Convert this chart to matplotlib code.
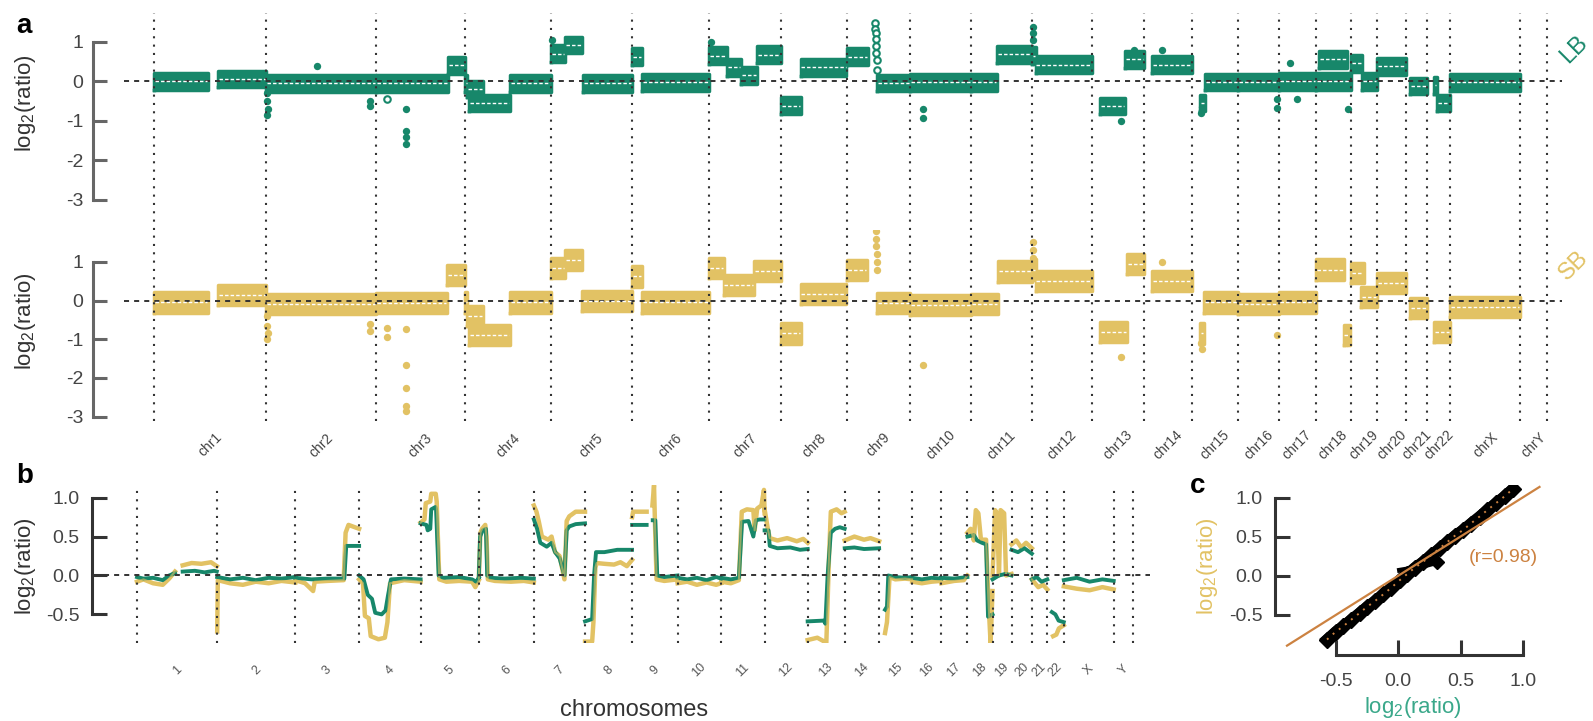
import matplotlib.pyplot as plt
import matplotlib.transforms as mtransforms
import numpy as np

plt.rcParams['font.family'] = ['Liberation Sans', 'DejaVu Sans']
plt.rcParams['mathtext.fontset'] = 'custom'
plt.rcParams['mathtext.rm'] = 'Liberation Sans'
plt.rcParams['mathtext.it'] = 'Liberation Sans:italic'
plt.rcParams['mathtext.bf'] = 'Liberation Sans:bold'

GREEN = '#17876a'
YELLOW = '#e2c264'
ORANGE = '#cc8241'
GREY = '#444444'
nan = np.nan

# chromosomes and their lengths (Mb)
chrom_names = ['1', '2', '3', '4', '5', '6', '7', '8', '9', '10', '11', '12',
               '13', '14', '15', '16', '17', '18', '19', '20', '21', '22', 'X', 'Y']
chrom_len = [249.25, 243.20, 198.02, 191.15, 180.92, 171.12, 159.14, 146.36,
             141.21, 135.53, 135.01, 133.85, 115.17, 107.35, 102.53, 90.35,
             81.20, 78.08, 59.13, 63.03, 48.13, 51.30, 155.27, 59.37]

# panel a : segments (chromosome, start Mb, end Mb, log2 ratio)
lb_segments = [
    ('1', 0, 120, 0.0), ('1', 143, 249, 0.06),
    ('2', 0, 243, -0.05),
    ('3', 0, 160, -0.05), ('3', 160, 198, 0.4),
    ('4', 0, 6, -0.05), ('4', 6, 40, -0.2), ('4', 10, 100, -0.55), ('4', 100, 191, -0.05),
    ('5', 0, 32, 0.7), ('5', 32, 70, 0.92), ('5', 72, 181, -0.05),
    ('6', 0, 22, 0.62), ('6', 22, 171, -0.03),
    ('7', 0, 39, 0.65), ('7', 39, 70, 0.35), ('7', 70, 106, 0.15), ('7', 106, 159, 0.67),
    ('8', 0, 44, -0.62), ('8', 44, 146, 0.35),
    ('9', 0, 47, 0.62), ('9', 68, 141, -0.04),
    ('10', 0, 135, -0.03),
    ('11', 0, 58, -0.03), ('11', 58, 135, 0.68),
    ('12', 0, 8, 0.65), ('12', 8, 134, 0.42),
    ('13', 18, 73, -0.63), ('13', 73, 115, 0.55),
    ('14', 18, 107, 0.42),
    ('15', 18, 28, -0.55), ('15', 28, 102, -0.02),
    ('16', 0, 90, -0.02),
    ('17', 0, 81, 0.0),
    ('18', 0, 78, 0.0), ('18', 8, 70, 0.55),
    ('19', 0, 25, 0.45), ('19', 25, 59, 0.0),
    ('20', 0, 63, 0.38),
    ('21', 10, 48, -0.12),
    ('22', 15, 22, -0.1), ('22', 22, 51, -0.55),
    ('X', 0, 155, -0.03),
]
sb_segments = [
    ('1', 0, 120, -0.05), ('1', 143, 249, 0.15),
    ('2', 0, 243, -0.1),
    ('3', 0, 158, -0.07), ('3', 158, 198, 0.66),
    ('4', 0, 6, -0.05), ('4', 6, 40, -0.4), ('4', 10, 100, -0.88), ('4', 100, 191, -0.05),
    ('5', 0, 32, 0.83), ('5', 32, 70, 1.05), ('5', 70, 181, -0.02),
    ('6', 0, 22, 0.62), ('6', 22, 171, -0.05),
    ('7', 0, 32, 0.83), ('7', 32, 100, 0.4), ('7', 100, 159, 0.77),
    ('8', 0, 44, -0.85), ('8', 44, 146, 0.17),
    ('9', 0, 45, 0.78), ('9', 68, 141, -0.07),
    ('10', 0, 135, -0.12),
    ('11', 0, 60, -0.08), ('11', 60, 135, 0.75),
    ('12', 0, 8, 0.8), ('12', 8, 134, 0.5),
    ('13', 18, 77, -0.82), ('13', 77, 115, 0.95),
    ('14', 18, 107, 0.5),
    ('15', 18, 26, -0.85), ('15', 26, 102, -0.05),
    ('16', 0, 90, -0.08),
    ('17', 0, 81, -0.05),
    ('18', 0, 62, 0.8), ('18', 62, 76, -0.9),
    ('19', 0, 30, 0.7), ('19', 22, 59, 0.1),
    ('20', 0, 63, 0.45),
    ('21', 10, 48, -0.2),
    ('22', 15, 51, -0.82),
    ('X', 0, 155, -0.16),
]

# panel a : single probes away from the segments (chromosome, Mb, log2 ratio)
lb_points = [
    ('2', 2, -0.3), ('2', 2, -0.5), ('2', 3, -0.7), ('2', 2, -0.85),
    ('2', 112, 0.38), ('2', 231, -0.5), ('2', 231, -0.63),
    ('3', 68, -0.71), ('3', 68, -1.25), ('3', 68, -1.42), ('3', 68, -1.58),
    ('5', 3, 1.05), ('7', 4, 1.0),
    ('10', 28, -0.71), ('10', 28, -0.92),
    ('12', 2, 1.37), ('12', 2, 1.21), ('12', 3, 1.04),
    ('13', 64, -1.0), ('13', 92, 0.78), ('14', 39, 0.78),
    ('15', 20, -0.8), ('15', 21, -0.65),
    ('16', 86, -0.45), ('16', 86, -0.67),
    ('17', 25, 0.45), ('17', 40, -0.45), ('18', 72, -0.7),
]
lb_open_points = [
    ('3', 26, -0.46),
    ('9', 64, 1.46), ('9', 64, 1.33), ('9', 65, 1.21), ('9', 65, 1.08),
    ('9', 66, 0.88), ('9', 66, 0.71), ('9', 67, 0.54), ('9', 67, 0.29),
]
sb_points = [
    ('2', 2, -0.4), ('2', 2, -0.65), ('2', 3, -0.85), ('2', 2, -1.0),
    ('2', 231, -0.6), ('2', 231, -0.78),
    ('3', 26, -0.7), ('3', 26, -0.95),
    ('3', 68, -0.74), ('3', 68, -1.66), ('3', 68, -2.25), ('3', 68, -2.71), ('3', 68, -2.84),
    ('9', 66, 1.8), ('9', 66, 1.6), ('9', 66, 1.4), ('9', 67, 1.2), ('9', 67, 1.0), ('9', 67, 0.8),
    ('10', 28, -1.66),
    ('12', 2, 1.5), ('12', 2, 1.3), ('12', 3, 1.1),
    ('13', 64, -1.45), ('14', 39, 1.0),
    ('15', 20, -1.1), ('15', 21, -1.25),
    ('16', 86, -0.9), ('18', 70, -1.1),
]

# panel b : smoothed profiles (chromosome, Mb, log2 ratio)
b_lb = [
    ('1', 0, -0.02), ('1', 20, -0.04), ('1', 50, -0.03), ('1', 80, -0.06), ('1', 100, 0.0), ('1', 118, 0.03),
    ('1', 130, nan), ('1', 142, 0.05), ('1', 180, 0.06), ('1', 210, 0.04), ('1', 240, 0.06), ('1', 248, 0.05),
    ('2', 0, -0.02), ('2', 40, -0.05), ('2', 80, -0.03), ('2', 120, -0.06), ('2', 160, -0.03), ('2', 200, -0.04), ('2', 243, -0.02),
    ('3', 0, -0.03), ('3', 50, -0.05), ('3', 100, -0.04), ('3', 152, -0.04), ('3', 158, 0.38), ('3', 198, 0.38),
    ('4', 0, 0.0), ('4', 14, -0.05), ('4', 27, -0.25), ('4', 40, -0.3), ('4', 50, -0.48), ('4', 70, -0.5),
    ('4', 82, -0.45), ('4', 90, -0.25), ('4', 99, -0.05), ('4', 140, -0.04), ('4', 191, -0.05),
    ('5', 0, 0.67), ('5', 18, 0.65), ('5', 22, 0.58), ('5', 30, 0.6), ('5', 33, 0.85), ('5', 46, 0.88),
    ('5', 48, 0.85), ('5', 56, 0.0), ('5', 70, -0.03), ('5', 120, -0.02), ('5', 160, -0.05), ('5', 173, -0.08), ('5', 181, -0.03),
    ('6', 0, -0.02), ('6', 4, 0.5), ('6', 12, 0.58), ('6', 22, 0.6), ('6', 26, 0.0), ('6', 35, -0.03),
    ('6', 80, -0.04), ('6', 130, -0.03), ('6', 171, -0.04),
    ('7', 0, 0.72), ('7', 10, 0.6), ('7', 20, 0.42), ('7', 40, 0.37), ('7', 55, 0.42), ('7', 66, 0.3),
    ('7', 80, 0.22), ('7', 95, 0.0), ('7', 102, 0.58), ('7', 110, 0.63), ('7', 130, 0.66), ('7', 159, 0.67),
    ('8', 0, -0.59), ('8', 22, -0.56), ('8', 28, 0.0), ('8', 34, 0.3), ('8', 60, 0.3), ('8', 100, 0.33), ('8', 146, 0.33),
    ('9', 0, 0.65), ('9', 45, 0.65), ('9', 55, nan), ('9', 64, 0.71), ('9', 72, 0.71), ('9', 78, 0.0),
    ('9', 100, -0.02), ('9', 141, 0.0),
    ('10', 0, -0.03), ('10', 30, -0.05), ('10', 60, -0.03), ('10', 90, -0.06), ('10', 120, -0.02), ('10', 135, -0.04),
    ('11', 0, -0.03), ('11', 30, -0.05), ('11', 55, -0.03), ('11', 65, 0.69), ('11', 85, 0.7), ('11', 100, 0.5),
    ('11', 108, 0.71), ('11', 120, 0.72), ('11', 135, 0.72),
    ('12', 0, 0.58), ('12', 12, 0.58), ('12', 16, 0.38), ('12', 40, 0.35), ('12', 80, 0.36), ('12', 110, 0.33), ('12', 134, 0.34),
    ('13', 0, -0.59), ('13', 50, -0.58), ('13', 55, -0.62), ('13', 62, 0.0), ('13', 72, 0.55), ('13', 85, 0.6),
    ('13', 100, 0.62), ('13', 115, 0.6),
    ('14', 0, 0.35), ('14', 30, 0.36), ('14', 60, 0.34), ('14', 107, 0.35),
    ('15', 18, -0.44), ('15', 24, -0.4), ('15', 28, 0.0), ('15', 50, -0.02), ('15', 80, -0.03), ('15', 102, -0.02),
    ('16', 0, -0.03), ('16', 30, -0.05), ('16', 60, -0.03), ('16', 90, -0.04),
    ('17', 0, -0.03), ('17', 40, -0.04), ('17', 81, -0.02),
    ('18', 0, 0.5), ('18', 20, 0.52), ('18', 30, 0.45), ('18', 45, 0.42), ('18', 58, 0.4), ('18', 64, -0.53), ('18', 78, -0.5),
    ('19', 0, -0.05), ('19', 20, 0.0), ('19', 40, 0.02), ('19', 59, 0.0),
    ('20', 0, 0.33), ('20', 20, 0.3), ('20', 40, 0.35), ('20', 63, 0.28),
    ('21', 0, -0.05), ('21', 15, -0.02), ('21', 30, -0.08), ('21', 48, -0.05),
    ('22', 14, -0.47), ('22', 25, -0.5), ('22', 35, -0.58), ('22', 51, -0.6),
    ('X', 0, -0.06), ('X', 40, -0.03), ('X', 80, -0.08), ('X', 120, -0.05), ('X', 155, -0.07),
]
b_sb = [
    ('1', 0, -0.08), ('1', 20, -0.05), ('1', 50, -0.1), ('1', 80, -0.12), ('1', 100, -0.04), ('1', 118, 0.05),
    ('1', 130, nan), ('1', 142, 0.13), ('1', 170, 0.16), ('1', 200, 0.15), ('1', 230, 0.17), ('1', 248, 0.12),
    ('2', 0, -0.72), ('2', 2, -0.06), ('2', 40, -0.1), ('2', 80, -0.12), ('2', 120, -0.08), ('2', 160, -0.1),
    ('2', 200, -0.07), ('2', 243, -0.09),
    ('3', 0, -0.06), ('3', 30, -0.1), ('3', 55, -0.2), ('3', 60, -0.08), ('3', 100, -0.07), ('3', 150, -0.06),
    ('3', 156, 0.55), ('3', 165, 0.65), ('3', 198, 0.6),
    ('4', 0, -0.05), ('4', 12, -0.1), ('4', 18, -0.52), ('4', 30, -0.55), ('4', 36, -0.78), ('4', 60, -0.82),
    ('4', 80, -0.8), ('4', 88, -0.6), ('4', 96, -0.1), ('4', 140, -0.06), ('4', 191, -0.08),
    ('5', 0, 0.68), ('5', 12, 0.72), ('5', 16, 0.93), ('5', 30, 0.95), ('5', 33, 1.05), ('5', 47, 1.05),
    ('5', 50, 0.95), ('5', 58, -0.05), ('5', 80, -0.08), ('5', 120, -0.07), ('5', 160, -0.08), ('5', 170, -0.15), ('5', 181, -0.06),
    ('6', 0, -0.03), ('6', 5, 0.55), ('6', 10, 0.6), ('6', 20, 0.65), ('6', 24, 0.5), ('6', 28, -0.05),
    ('6', 50, -0.07), ('6', 100, -0.08), ('6', 140, -0.07), ('6', 171, -0.09),
    ('7', 0, 0.9), ('7', 8, 0.82), ('7', 15, 0.7), ('7', 25, 0.5), ('7', 45, 0.46), ('7', 55, 0.5),
    ('7', 66, 0.3), ('7', 80, 0.25), ('7', 95, -0.05), ('7', 102, 0.7), ('7', 110, 0.76), ('7', 130, 0.82), ('7', 159, 0.82),
    ('8', 0, -0.85), ('8', 22, -0.85), ('8', 26, -0.6), ('8', 32, 0.1), ('8', 36, 0.16), ('8', 60, 0.15),
    ('8', 90, 0.14), ('8', 110, 0.17), ('8', 130, 0.12), ('8', 146, 0.2),
    ('9', 0, 0.75), ('9', 3, 0.82), ('9', 45, 0.82), ('9', 55, nan), ('9', 63, 0.9), ('9', 68, 1.16),
    ('9', 72, 0.5), ('9', 76, -0.05), ('9', 100, -0.07), ('9', 141, -0.05),
    ('10', 0, -0.1), ('10', 30, -0.08), ('10', 60, -0.12), ('10', 90, -0.09), ('10', 120, -0.12), ('10', 135, -0.1),
    ('11', 0, -0.08), ('11', 30, -0.1), ('11', 55, -0.06), ('11', 64, 0.82), ('11', 80, 0.85), ('11', 100, 0.84),
    ('11', 104, 0.58), ('11', 112, 0.86), ('11', 125, 0.9), ('11', 133, 1.1), ('11', 135, 0.8),
    ('12', 0, 0.85), ('12', 10, 0.6), ('12', 16, 0.48), ('12', 40, 0.45), ('12', 70, 0.48), ('12', 100, 0.44),
    ('12', 120, 0.47), ('12', 134, 0.42),
    ('13', 0, -0.83), ('13', 30, -0.8), ('13', 52, -0.85), ('13', 58, -0.87), ('13', 66, 0.2), ('13', 72, 0.82),
    ('13', 90, 0.85), ('13', 105, 0.8), ('13', 115, 0.82),
    ('14', 0, 0.45), ('14', 30, 0.5), ('14', 60, 0.46), ('14', 80, 0.48), ('14', 107, 0.44),
    ('15', 18, -0.74), ('15', 24, -0.6), ('15', 32, -0.02), ('15', 50, -0.05), ('15', 80, -0.04), ('15', 102, -0.05),
    ('16', 0, -0.08), ('16', 30, -0.1), ('16', 60, -0.08), ('16', 90, -0.07),
    ('17', 0, -0.1), ('17', 40, -0.07), ('17', 70, -0.06), ('17', 81, 0.0),
    ('18', 0, 0.55), ('18', 10, 0.6), ('18', 20, 0.45), ('18', 26, 0.84), ('18', 34, 0.8), ('18', 42, 0.46),
    ('18', 58, 0.46), ('18', 65, -0.3), ('18', 72, -0.87), ('18', 78, -0.2),
    ('19', 0, 0.0), ('19', 8, 0.84), ('19', 14, 0.8), ('19', 20, 0.0), ('19', 25, 0.84), ('19', 36, 0.8),
    ('19', 42, 0.0), ('19', 59, 0.02),
    ('20', 0, 0.4), ('20', 15, 0.45), ('20', 30, 0.36), ('20', 45, 0.42), ('20', 63, 0.35),
    ('21', 0, -0.05), ('21', 20, -0.15), ('21', 35, -0.12), ('21', 48, -0.18),
    ('22', 18, -0.78), ('22', 28, -0.76), ('22', 36, -0.68), ('22', 51, -0.64),
    ('X', 0, -0.14), ('X', 40, -0.17), ('X', 80, -0.19), ('X', 120, -0.15), ('X', 155, -0.18),
]

# panel c : LB vs SB profile values, and fitted line
c_lb = [-0.57, -0.5, -0.44, -0.38, -0.31, -0.25, -0.19, -0.12, -0.06, 0.01, 0.07, 0.13,
        0.2, 0.26, 0.33, 0.39, 0.45, 0.52, 0.58, 0.65, 0.71, 0.78, 0.85, 0.92]
c_sb = [-0.82, -0.72, -0.65, -0.57, -0.48, -0.40, -0.33, -0.24, -0.16, -0.06, 0.02, 0.10,
        0.18, 0.26, 0.35, 0.43, 0.51, 0.59, 0.67, 0.76, 0.84, 0.93, 1.02, 1.12]
c_branch_lb = [0.01, 0.12, 0.22, 0.31]
c_branch_sb = [0.07, 0.10, 0.13, 0.17]
fit_x = [-0.89, 1.13]
fit_slope = 1.01
fit_intercept = 0.0
r_value = 0.98

#-----------------------------------------------------------------------------

chrom_start = np.concatenate([[0], np.cumsum(chrom_len)[:-1]])
chrom_bounds = np.concatenate([[0], np.cumsum(chrom_len)])
chrom_mid = chrom_start + np.array(chrom_len) / 2


def gx(ch, pos):
    return chrom_start[chrom_names.index(ch)] + pos


W, H = 1593, 721
fig = plt.figure(figsize=(W / 100, H / 100), dpi=100)


def box(l, t, r, b):
    return [l / W, 1 - b / H, (r - l) / W, (b - t) / H]


# pixel mapping of the genome axis in panel a and b
A0, AS = 154, 0.45
B0, BS = 137, 0.3217


def vlines(ax):
    for b in chrom_bounds:
        ax.axvline(b, color='#333333', lw=1.5, dashes=(1, 3), zorder=3)


def style_yaxis(ax, lo, hi, ticks, labels, color):
    for s in ['top', 'right', 'bottom']:
        ax.spines[s].set_visible(False)
    ax.spines['left'].set_bounds(lo, hi)
    ax.spines['left'].set_linewidth(2.2)
    ax.spines['left'].set_color(color)
    ax.set_yticks(ticks)
    ax.set_yticklabels(labels)
    ax.set_xticks([])
    ax.tick_params(axis='y', direction='in', length=10, width=2.2, color=color,
                   labelsize=14, labelcolor=GREY, pad=7)


def draw_track(ax, segments, points, color, spread):
    for ch, s, e, lvl in segments:
        x0, x1 = gx(ch, s), gx(ch, e)
        ax.fill_between([x0, x1], lvl - spread, lvl + spread, color=color, lw=0, zorder=2)
        # rounded outline mimics the edge of the probe cloud
        ax.plot([x0, x1, x1, x0, x0], [lvl - spread, lvl - spread, lvl + spread, lvl + spread, lvl - spread],
                color=color, lw=2.5, solid_joinstyle='round', zorder=2)
    for ch, s, e, lvl in segments:
        x0, x1 = gx(ch, s), gx(ch, e)
        ax.plot([x0 + 2, x1 - 2], [lvl, lvl], color='white', lw=1.0, dashes=(2.5, 1.5), zorder=4)
    ax.scatter([gx(c, p) for c, p, v in points], [v for c, p, v in points],
               s=28, color=color, lw=0, zorder=2)


# panel a
ax_lb = fig.add_axes(box(93, 13, 1580, 230))
ax_sb = fig.add_axes(box(93, 230, 1580, 421))
for ax, segs, pts, col, spread, ylim in [
        (ax_lb, lb_segments, lb_points, GREEN, 0.21, (-3.76, 1.725)),
        (ax_sb, sb_segments, sb_points, YELLOW, 0.26, (-3.11, 1.82))]:
    ax.set_xlim((93 - A0) / AS, (1580 - A0) / AS)
    ax.set_ylim(*ylim)
    vlines(ax)
    ax.plot([(124 - A0) / AS, (1562 - A0) / AS], [0, 0], color='#333333', lw=1.4,
            dashes=(2.6, 2.6), zorder=3)
    draw_track(ax, segs, pts, col, spread)
    style_yaxis(ax, -3, 1, [-3, -2, -1, 0, 1], ['-3', '-2', '-1', '0', '1'], '#666666')
    ax.patch.set_alpha(0)

ax_lb.scatter([gx(c, p) for c, p, v in lb_open_points], [v for c, p, v in lb_open_points],
              s=22, facecolor='white', edgecolor=GREEN, lw=1.5, zorder=2)

trans = mtransforms.blended_transform_factory(ax_sb.transData, ax_sb.transAxes)
for name, m in zip(chrom_names, chrom_mid):
    ax_sb.text(m, -0.126, 'chr' + name, transform=trans, rotation=45, ha='center',
               va='center', fontsize=10, color=GREY)

fig.text(1574 / W, 1 - 50 / H, 'LB', rotation=45, ha='center', va='center',
         color=GREEN, fontsize=17)
fig.text(1574 / W, 1 - 266 / H, 'SB', rotation=45, ha='center', va='center',
         color=YELLOW, fontsize=17)
fig.text(25 / W, 1 - 103 / H, r'log$_2$(ratio)', rotation=90, ha='center', va='center',
         fontsize=16, color='#333333')
fig.text(25 / W, 1 - 321 / H, r'log$_2$(ratio)', rotation=90, ha='center', va='center',
         fontsize=16, color='#333333')

# panel b
ax_b = fig.add_axes(box(92, 485, 1152, 643))
ax_b.set_xlim((92 - B0) / BS, (1152 - B0) / BS)
ax_b.set_ylim(-0.868, 1.163)
vlines(ax_b)
ax_b.plot([(104 - B0) / BS, (1150 - B0) / BS], [0, 0], color='#333333', lw=1.4,
          dashes=(2.6, 2.6), zorder=3)


def profile(points):
    xs, ys, prev = [], [], None
    for ch, pos, val in points:
        if prev is not None and ch != prev:
            xs.append(nan)
            ys.append(nan)
        xs.append(gx(ch, pos))
        ys.append(val)
        prev = ch
    return xs, ys


xs, ys = profile(b_sb)
ax_b.plot(xs, ys, color=YELLOW, lw=3.2, zorder=2)
xs, ys = profile(b_lb)
ax_b.plot(xs, ys, color=GREEN, lw=2.8, zorder=2)
xs, ys = profile(b_sb)
ax_b.plot(xs, ys, color=YELLOW, lw=1.5, alpha=0.6, zorder=2)
style_yaxis(ax_b, -0.5, 1.0, [-0.5, 0, 0.5, 1.0], ['-0.5', '0.0', '0.5', '1.0'], '#333333')
ax_b.tick_params(axis='y', labelsize=14, length=11, pad=9)

trans_b = mtransforms.blended_transform_factory(ax_b.transData, ax_b.transAxes)
for name, m in zip(chrom_names, chrom_mid):
    ax_b.text(m, -0.171, name, transform=trans_b, rotation=45, ha='center', va='center',
              fontsize=9, color='#555555')
fig.text(634 / W, 1 - 710 / H, 'chromosomes', ha='center', va='center', fontsize=17,
         color='#333333')
fig.text(25 / W, 1 - 566 / H, r'log$_2$(ratio)', rotation=90, ha='center', va='center',
         fontsize=16, color='#333333')

# panel c
ax_c = fig.add_axes(box(1275, 485, 1545, 655))
ax_c.set_xlim(-0.986, 1.174)
ax_c.set_ylim(-1.019, 1.166)
fx = np.array(fit_x)
ax_c.plot(fx, fit_slope * fx + fit_intercept, color=ORANGE, lw=1.6, zorder=3)
ax_c.plot(c_lb, c_sb, color='black', lw=8, marker='D', ms=8, zorder=2)
ax_c.plot(c_branch_lb, c_branch_sb, color='black', lw=3.5, zorder=2)
ax_c.plot(c_branch_lb[-1:], c_branch_sb[-1:], color='black', marker='D', ms=7, zorder=2)
ax_c.plot(c_lb, c_sb, color=ORANGE, lw=1.4, dashes=(1, 3), zorder=4)
ax_c.text(0.84, 0.23, '(r=%.2f)' % r_value, color=ORANGE, fontsize=14, ha='center', va='center')
for s in ['top', 'right']:
    ax_c.spines[s].set_visible(False)
for s in ['left', 'bottom']:
    ax_c.spines[s].set_bounds(-0.5, 1.0)
    ax_c.spines[s].set_linewidth(2.2)
    ax_c.spines[s].set_color('#333333')
ax_c.set_xticks([-0.5, 0, 0.5, 1.0])
ax_c.set_xticklabels(['-0.5', '0.0', '0.5', '1.0'])
ax_c.set_yticks([-0.5, 0, 0.5, 1.0])
ax_c.set_yticklabels(['-0.5', '0.0', '0.5', '1.0'])
ax_c.tick_params(direction='in', length=11, width=2.2, color='#333333', labelsize=14,
                 labelcolor=GREY)
ax_c.tick_params(axis='y', pad=9)
ax_c.tick_params(axis='x', pad=13)
ax_c.patch.set_alpha(0)
fig.text(1208 / W, 1 - 566 / H, r'log$_2$(ratio)', rotation=90, ha='center', va='center',
         fontsize=16, color=YELLOW)
fig.text(1413 / W, 1 - 707 / H, r'log$_2$(ratio)', ha='center', va='center',
         fontsize=16, color='#3aa88a')

# panel letters
fig.text(24 / W, 1 - 26 / H, 'a', fontsize=20, fontweight='bold', ha='center', va='center')
fig.text(25 / W, 1 - 476 / H, 'b', fontsize=20, fontweight='bold', ha='center', va='center')
fig.text(1198 / W, 1 - 486 / H, 'c', fontsize=20, fontweight='bold', ha='center', va='center')

fig.savefig('out.png', dpi=100)
